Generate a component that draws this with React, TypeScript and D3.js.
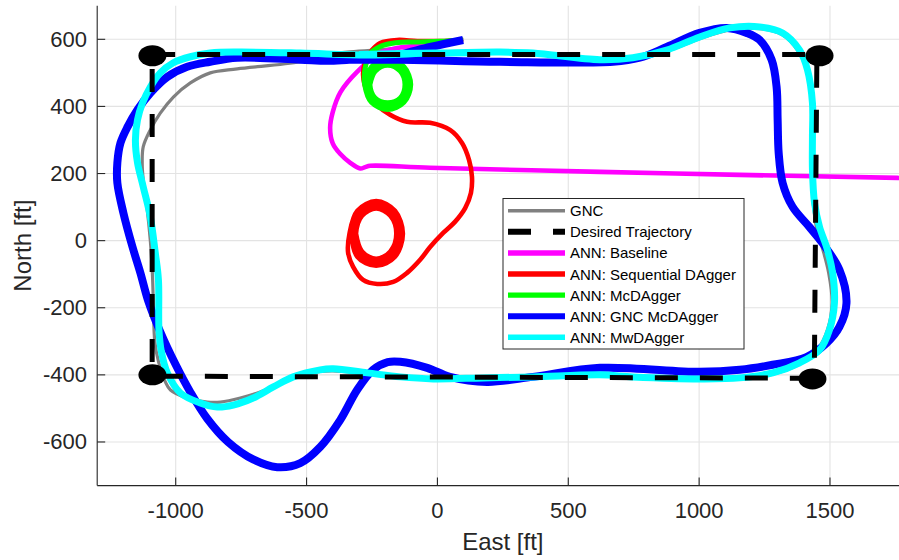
import React from "react";
import * as d3 from "d3";

type Pt = [number, number];

// Axis ticks
const EAST_TICKS = [-1000, -500, 0, 500, 1000, 1500];
const NORTH_TICKS = [-600, -400, -200, 0, 200, 400, 600];

// Desired rectangular pattern (East, North) in feet
const DESIRED_PATH: Pt[] = [
  [-1090, 555], [1450, 555], [1440, -410], [-1090, -404], [-1090, 555],
];
const WAYPOINTS: Pt[] = [
  [-1089, 551], [1460, 551], [1433, -412], [-1089, -400],
];

// GNC reference flight
const GNC: Pt[] = [
  [100, 600], [-50, 585], [-200, 570], [-345, 562], [-410, 555], [-524, 533],
  [-765, 512], [-868, 500], [-944, 470], [-1009, 428], [-1059, 380], [-1097, 330],
  [-1124, 280], [-1128, 232], [-1124, 180], [-1110, 100], [-1097, 0], [-1089, -100],
  [-1085, -200], [-1080, -300], [-1066, -360], [-1040, -420], [-1020, -445],
  [-956, -469], [-879, -481], [-829, -481], [-753, -469], [-677, -451], [-600, -425],
  [-551, -406], [-448, -390], [-400, -388], [-268, -396], [-142, -405], [0, -412],
  [200, -410], [400, -406], [621, -402], [800, -408], [1000, -413], [1155, -412],
  [1281, -398], [1384, -368], [1455, -322], [1492, -262], [1508, -186], [1495, -96],
  [1470, -19], [1448, 41], [1436, 112], [1430, 211], [1430, 309], [1430, 410],
  [1412, 505], [1380, 563], [1317, 614], [1230, 632], [1117, 628], [1002, 602],
  [876, 565], [747, 545], [621, 540], [365, 556], [100, 558], [-150, 556],
];

// ANN: Baseline
const BASELINE: Pt[] = [
  [98, 598], [-39, 583], [-154, 574], [-219, 559], [-307, 503], [-371, 442],
  [-400, 383], [-410, 336], [-400, 290], [-371, 258], [-333, 232], [-295, 215],
  [-276, 219], [-257, 223], [-28, 217], [621, 205], [1155, 196], [1758, 187],
  [1850, 185],
];

// ANN: Sequential DAgger
const SEQUENTIAL: Pt[] = [
  [98, 598], [10, 595], [-77, 595], [-154, 598], [-219, 589], [-250, 568],
  [-276, 533], [-284, 494], [-268, 443], [-230, 404], [-181, 375], [-116, 354],
  [-28, 351], [48, 330], [94, 291], [121, 240], [132, 190], [128, 142], [106, 97],
  [67, 56], [22, 23], [-28, -19], [-66, -57], [-116, -96], [-169, -123],
  [-230, -129], [-284, -117], [-322, -78], [-341, -37],
  [-336, 21], [-306, 89], [-234, 118], [-162, 89], [-132, 21], [-162, -48], [-234, -75], [-306, -48],
  [-324, 21], [-298, 81], [-234, 106], [-170, 81], [-144, 21], [-170, -39], [-234, -64], [-298, -39],
  [-311, 21], [-288, 74], [-234, 96], [-180, 74], [-157, 21], [-180, -32], [-234, -54], [-288, -32],
  [-311, 21],
];

// ANN: McDAgger
const MCDAGGER: Pt[] = [
  [98, 598], [10, 594], [-77, 592], [-160, 590], [-215, 580], [-257, 558],
  [-276, 515],
  [-278, 465], [-252, 412], [-190, 391], [-128, 412], [-102, 465], [-128, 518], [-190, 540], [-252, 518],
  [-268, 465], [-245, 418], [-190, 401], [-135, 418], [-113, 465], [-135, 512], [-190, 532], [-245, 512],
  [-258, 465], [-238, 425], [-190, 411], [-142, 425], [-124, 465], [-142, 505], [-190, 523], [-238, 505],
  [-258, 465],
];

// ANN: GNC McDAgger
const GNC_MCDAGGER: Pt[] = [
  [98, 598], [-28, 577], [-154, 553], [-246, 545], [-409, 536], [-524, 539],
  [-765, 545], [-868, 533], [-956, 518], [-1032, 488], [-1097, 440], [-1146, 390],
  [-1184, 339], [-1211, 291], [-1223, 232], [-1223, 172], [-1200, 83], [-1165, -19],
  [-1135, -96], [-1105, -180], [-1060, -270], [-1000, -370], [-945, -450],
  [-880, -530], [-800, -600], [-704, -652], [-612, -675], [-524, -663],
  [-448, -615], [-371, -534], [-307, -445], [-246, -385], [-190, -362],
  [-142, -361], [-39, -379], [48, -406], [190, -421], [365, -406],
  [621, -379], [1002, -391], [1155, -385], [1281, -370], [1410, -347], [1487, -305],
  [1536, -257], [1563, -186], [1536, -87], [1471, -7], [1421, 41], [1357, 101],
  [1319, 172], [1304, 261], [1300, 360], [1296, 458], [1277, 539], [1231, 598],
  [1182, 619], [1106, 634], [1002, 619], [876, 577], [773, 545], [671, 533],
  [239, 533], [-142, 539], [-409, 539],
];

// ANN: MwDAgger
const MWDAGGER: Pt[] = [
  [150, 560], [-16, 559], [-268, 553], [-524, 559], [-765, 562], [-868, 559],
  [-944, 548], [-1009, 530], [-1059, 500], [-1097, 458], [-1127, 410], [-1146, 360],
  [-1154, 300], [-1146, 232], [-1124, 160], [-1097, 71], [-1078, -37], [-1066, -117],
  [-1064, -266], [-1055, -330], [-1032, -394], [-982, -454], [-906, -484], [-841, -496],
  [-780, -490], [-704, -469], [-627, -436], [-551, -406], [-448, -385], [-398, -382],
  [-268, -394], [-142, -406], [-16, -412], [174, -409], [365, -406], [621, -400],
  [747, -406], [1002, -412], [1155, -409], [1281, -394], [1384, -364], [1460, -326],
  [1498, -266], [1517, -186], [1510, -96], [1487, -19], [1460, 41], [1441, 112],
  [1433, 211], [1433, 309], [1433, 410], [1414, 509], [1384, 568], [1319, 619],
  [1231, 637], [1117, 634], [1002, 607], [876, 568], [747, 545], [621, 539],
  [365, 559], [239, 562], [-16, 559], [-300, 555],
];

const LEGEND_LABELS = [
  "GNC",
  "Desired Trajectory",
  "ANN: Baseline",
  "ANN: Sequential DAgger",
  "ANN: McDAgger",
  "ANN: GNC McDAgger",
  "ANN: MwDAgger",
];

const FONT = "'Liberation Sans', Arial, Helvetica, sans-serif";
const INK = "#262626";

export default function App() {
  const W = 899;
  const H = 560;
  const left = 97.2;
  const right = 908.5;
  const top = 5.75;
  const bottom = 485.6;

  const x = d3.scaleLinear().domain([-1300, 1800]).range([left, right]);
  const y = d3.scaleLinear().domain([-730, 700]).range([bottom, top]);

  const smooth = d3
    .line<Pt>()
    .x((d) => x(d[0]))
    .y((d) => y(d[1]))
    .curve(d3.curveCatmullRom.alpha(0.5));
  const straight = d3
    .line<Pt>()
    .x((d) => x(d[0]))
    .y((d) => y(d[1]));

  const series = [
    { data: GNC, color: "#808080", width: 3.2 },
    { data: BASELINE, color: "#ff00ff", width: 4.6 },
    { data: SEQUENTIAL, color: "#ff0000", width: 4.6 },
    { data: MCDAGGER, color: "#00ff00", width: 5 },
    { data: GNC_MCDAGGER, color: "#0000ff", width: 8 },
    { data: MWDAGGER, color: "#00ffff", width: 7 },
  ];

  const legendStyles = [
    { color: "#808080", width: 3.6, dash: undefined as string | undefined },
    { color: "#000000", width: 6, dash: "23,22" },
    { color: "#ff00ff", width: 5.5 },
    { color: "#ff0000", width: 5.5 },
    { color: "#00ff00", width: 5.2 },
    { color: "#0000ff", width: 6 },
    { color: "#00ffff", width: 5.4 },
  ];

  const legX = 503;
  const legY = 198.5;
  const legW = 241;
  const legH = 150.5;
  const rowY0 = 210.7;
  const rowStep = 21.1;

  return (
    <svg
      width={W}
      height={H}
      viewBox={`0 0 ${W} ${H}`}
      style={{ position: "absolute", left: 0, top: 0, background: "#ffffff" }}
    >
      <defs>
        <clipPath id="plot-area">
          <rect x={left} y={top} width={right - left} height={bottom - top} />
        </clipPath>
      </defs>
      <rect x={0} y={0} width={W} height={H} fill="#ffffff" />

      {/* grid */}
      <g stroke="#e3e3e3" strokeWidth={1.1}>
        {EAST_TICKS.map((t) => (
          <line key={`gx${t}`} x1={x(t)} x2={x(t)} y1={top} y2={bottom} />
        ))}
        {NORTH_TICKS.map((t) => (
          <line key={`gy${t}`} x1={left} x2={right} y1={y(t)} y2={y(t)} />
        ))}
      </g>

      {/* trajectories */}
      <g clipPath="url(#plot-area)" fill="none" strokeLinejoin="round" strokeLinecap="butt">
        {series.map((s, i) => (
          <path key={i} d={smooth(s.data) ?? ""} stroke={s.color} strokeWidth={s.width} />
        ))}
        <path
          d={straight(DESIRED_PATH) ?? ""}
          stroke="#000000"
          strokeWidth={5}
          strokeDasharray="23,22"
        />
        {WAYPOINTS.map((p, i) => (
          <ellipse key={i} cx={x(p[0])} cy={y(p[1])} rx={14} ry={10.5} fill="#000000" />
        ))}
      </g>

      {/* axes */}
      <g stroke={INK} strokeWidth={1.1}>
        <line x1={left} x2={left} y1={top} y2={bottom} />
        <line x1={left} x2={right} y1={bottom} y2={bottom} />
        {EAST_TICKS.map((t) => (
          <line key={`tx${t}`} x1={x(t)} x2={x(t)} y1={bottom} y2={bottom - 8} />
        ))}
        {NORTH_TICKS.map((t) => (
          <line key={`ty${t}`} x1={left} x2={left + 8} y1={y(t)} y2={y(t)} />
        ))}
      </g>
      <g fontFamily={FONT} fontSize={22} fill={INK}>
        {EAST_TICKS.map((t) => (
          <text key={`lx${t}`} x={x(t)} y={518} textAnchor="middle">
            {t}
          </text>
        ))}
        {NORTH_TICKS.map((t) => (
          <text key={`ly${t}`} x={87} y={y(t)} textAnchor="end" dominantBaseline="central">
            {t}
          </text>
        ))}
      </g>
      <text
        x={(left + right) / 2}
        y={550}
        textAnchor="middle"
        fontFamily={FONT}
        fontSize={24}
        fill={INK}
      >
        East [ft]
      </text>
      <text
        transform={`translate(31, ${(top + bottom) / 2}) rotate(-90)`}
        textAnchor="middle"
        fontFamily={FONT}
        fontSize={24}
        fill={INK}
      >
        North [ft]
      </text>

      {/* legend */}
      <rect x={legX} y={legY} width={legW} height={legH} fill="#ffffff" stroke={INK} strokeWidth={1} />
      {LEGEND_LABELS.map((label, i) => {
        const ry = rowY0 + i * rowStep;
        const st = legendStyles[i];
        return (
          <g key={label}>
            <line
              x1={508}
              x2={565}
              y1={ry}
              y2={ry}
              stroke={st.color}
              strokeWidth={st.width}
              strokeDasharray={st.dash}
            />
            <text
              x={570}
              y={ry}
              dominantBaseline="central"
              fontFamily={FONT}
              fontSize={15}
              fill="#000000"
            >
              {label}
            </text>
          </g>
        );
      })}
    </svg>
  );
}
